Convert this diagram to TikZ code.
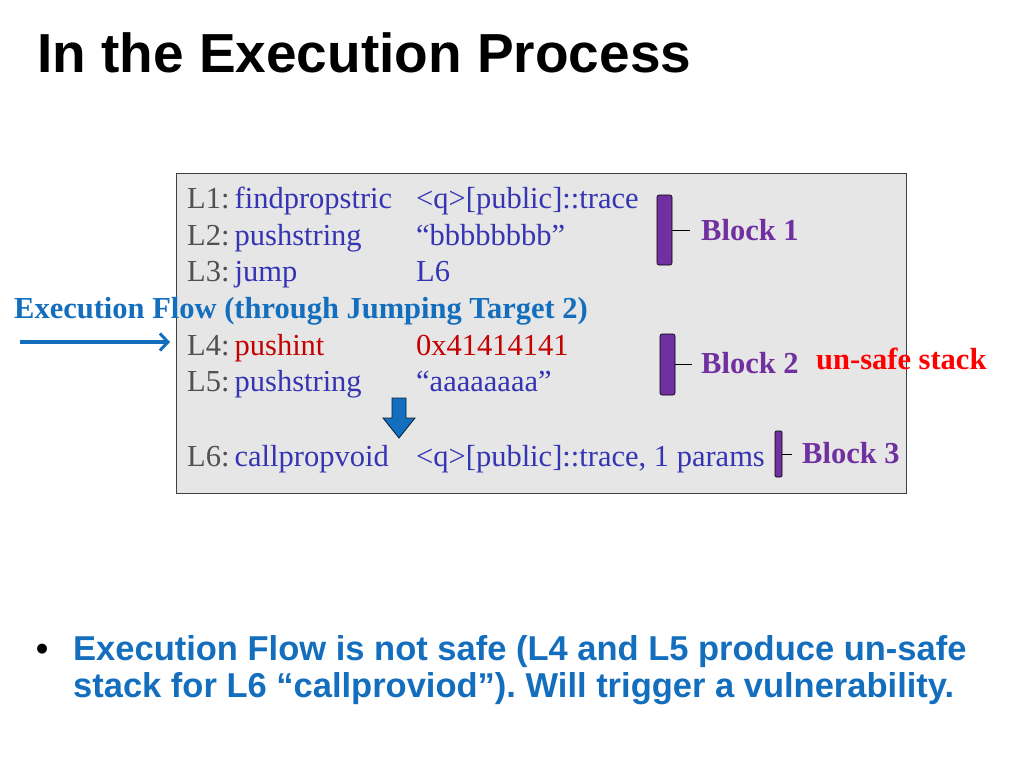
\documentclass[tikz,border=0pt]{standalone}
\usepackage{fontspec}
\setmainfont{Liberation Serif}
\newfontfamily\headfont{Liberation Sans}
\usetikzlibrary{arrows.meta,positioning,calc}
\definecolor{cmdblue}{RGB}{52,52,180}
\definecolor{lblgray}{RGB}{80,80,80}
\definecolor{hotred}{RGB}{196,0,0}
\definecolor{flowblue}{RGB}{20,110,190}
\definecolor{blkpurple}{RGB}{112,48,160}
\definecolor{panelgray}{RGB}{230,230,230}
\newcommand{\codesize}{\fontsize{30.5}{36}\selectfont}
\frenchspacing

\begin{document}
\begin{tikzpicture}
[x=1pt,y=-1pt,
    code/.style={anchor=base west,inner sep=0pt,font=\codesize,text=lblgray},
    cmd/.style={code,text=cmdblue},
    bad/.style={code,text=hotred},
    blk/.style={anchor=base west,inner sep=0pt,font=\codesize\bfseries,text=blkpurple},
    bar/.style={draw=black,line width=.6pt,fill=blkpurple,inner sep=0pt,
    rounded corners=2pt,shape=rectangle},
    tick/.style={line width=.8pt,black},
    panel/.style={draw=black!75,line width=1pt,fill=panelgray,inner sep=0pt},
    flow/.style={-{Straight Barb[length=8pt,width=17pt,line width=3pt]},
    line width=3.5pt,flowblue}]
\useasboundingbox (0,0) rectangle (1024,768);
%%%%%%%%%%
%% title
\node (title) [anchor=base west,inner sep=0pt,font=\headfont\fontsize{55}{60}\selectfont\bfseries]
  at (37,72) {In the Execution Process};
%% code panel
\node (panel) [panel,minimum width=730pt,minimum height=320pt] at (541,333) {};
%% lines
\node (l1) [code] at (187,208) {L1:\,\textcolor{cmdblue}{findpropstric}};
\node (l2) [code] at (187,245) {L2:\,\textcolor{cmdblue}{pushstring}};
\node (l3) [code] at (187,281) {L3:\,\textcolor{cmdblue}{jump}};
\node (l4) [code] at (187,355) {L4:\,\textcolor{hotred}{pushint}};
\node (l5) [code] at (187,391) {L5:\,\textcolor{cmdblue}{pushstring}};
\node (l6) [code] at (187,466) {L6:\,\textcolor{cmdblue}{callpropvoid}};
%% operands
\node (o1) [cmd] at (416,208) {<q>[public]::trace};
\node (o2) [cmd] at (416,245) {“bbbbbbbb”};
\node (o3) [cmd] at (416,281) {L6};
\node (o4) [bad] at (416,355) {0x41414141};
\node (o5) [cmd] at (416,391) {“aaaaaaaa”};
\node (o6) [cmd] at (416,466) {<q>[public]::trace, 1 params};
%% execution flow
\node (flowlab) [code,font=\codesize\bfseries,text=flowblue] at (14,318)
  {Execution Flow (through Jumping Target 2)};
\coordinate (flowin) at (20,342);
\draw[flow] (flowin) -- (flowin -| l4.west) [shorten >=17pt];
%% down arrow L5 -> L6
\filldraw[fill=flowblue,draw=black!70!flowblue,line width=.8pt]
  (392,398) -- (406,398) -- (406,418) -- (415,418) -- (399,438)
  -- (383,418) -- (392,418) -- cycle;
%% blocks
\node (bar1) [bar,minimum width=15pt,minimum height=70pt] at (664.5,230) {};
\node (bar2) [bar,minimum width=15pt,minimum height=61pt] at (667.5,364.5) {};
\node (bar3) [bar,minimum width=7pt,minimum height=46pt,rounded corners=1pt] at (778.5,454) {};
\node (blk1) [blk] at (701,240) {Block 1};
\node (blk2) [blk] at (701,373) {Block 2};
\node (blk3) [blk] at (802,463) {Block 3};
\node (unsafe) [blk,text=red] at (816,369) {un-safe stack};
%% ticks
\draw[tick] (bar1.east) -- ++(18,0);
\draw[tick] (bar2.east) -- ++(17,0);
\draw[tick] (bar3.east) -- ++(10,0);
%% bullet
\node (dot) [anchor=base west,inner sep=0pt,font=\headfont\fontsize{34.5}{37}\selectfont\bfseries]
  at (36,660) {•};
\node (note) [anchor=base west,inner sep=0pt,align=left,text=flowblue,
  font=\headfont\fontsize{34.5}{37}\selectfont\bfseries] at (73,697)
  {Execution Flow is not safe (L4 and L5 produce un-safe\\
   stack for L6 “callproviod”). Will trigger a vulnerability.};
\end{tikzpicture}
\end{document}
